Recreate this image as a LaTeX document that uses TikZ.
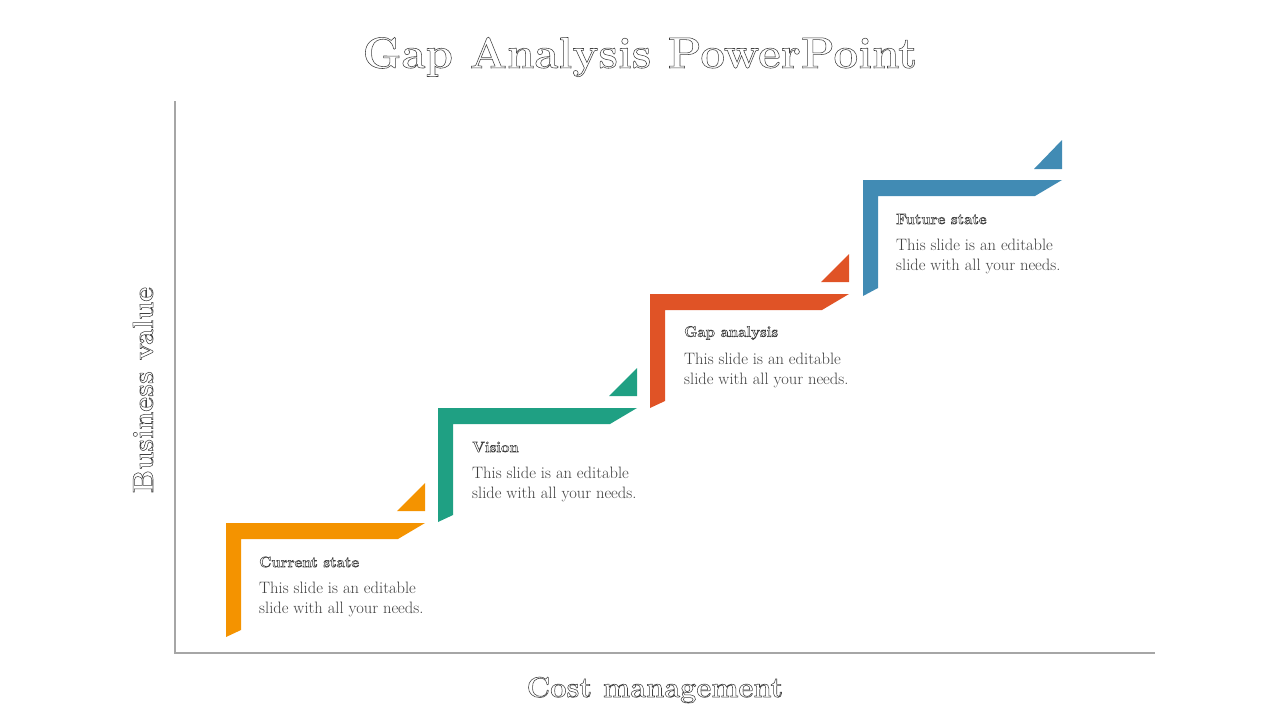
\documentclass[tikz,border=0pt]{standalone}
\usepackage{xcolor}
\usepackage{tikz}
\definecolor{myorange}{RGB}{244,147,0}
\definecolor{myteal}{RGB}{31,160,131}
\definecolor{myred}{RGB}{224,83,38}
\definecolor{myblue}{RGB}{65,139,180}
\definecolor{myaxis}{RGB}{166,166,166}
\definecolor{mytext}{RGB}{64,64,64}
\newcommand{\hollow}[1]{\special{pdf:literal direct 1 Tr 0.55 w}#1\special{pdf:literal direct 0 Tr}}
\tikzset{
  steplbl/.style={anchor=west, inner sep=0pt, text=black!75, font=\fontsize{15}{18}\selectfont\bfseries},
  stepbody/.style={anchor=north west, text=mytext, align=left, font=\fontsize{16.5}{19.5}\selectfont, inner sep=0pt},
  axislbl/.style={text=black!75, font=\fontsize{29}{33}\selectfont\bfseries}
}

\begin{document}
\begin{tikzpicture}[x=1pt,y=-1pt]
\useasboundingbox (0,0) rectangle (1280,720);

% title
\node[text=black!75, font=\fontsize{44}{50}\selectfont\bfseries] (title) at (640,57) {\hollow{Gap Analysis PowerPoint}};

% axes
\draw[myaxis, line width=2.5pt] (175,101) -- (175,653) -- (1155,653);
\node[axislbl, rotate=90] (ylbl) at (143,390) {\hollow{Business value}};
\node[axislbl] (xlbl) at (655,690) {\hollow{Cost management}};

% Current state
\fill[myorange] (226,523) -- ++(199,0) -- ++(-27,16) -- (241,539) -- (241,630) -- (226,637) -- cycle;
\fill[myorange] (397,511) -- (425,511) -- (425,483) -- cycle;
\node[steplbl] (cur) at (259,562) {\hollow{Current state}};
\node[stepbody] (curtxt) at (259,582) {This slide is an editable\\slide with all your needs.};

% Vision
\fill[myteal] (438,408) -- ++(199,0) -- ++(-27,16) -- (453,424) -- (453,515) -- (438,522) -- cycle;
\fill[myteal] (609,396) -- (637,396) -- (637,368) -- cycle;
\node[steplbl] (vis) at (472,447) {\hollow{Vision}};
\node[stepbody] (vistxt) at (472,467) {This slide is an editable\\slide with all your needs.};

% Gap analysis
\fill[myred] (650,294) -- ++(199,0) -- ++(-27,16) -- (665,310) -- (665,401) -- (650,408) -- cycle;
\fill[myred] (821,282) -- (849,282) -- (849,254) -- cycle;
\node[steplbl] (gap) at (684,333) {\hollow{Gap analysis}};
\node[stepbody] (gaptxt) at (684,353) {This slide is an editable\\slide with all your needs.};

% Future state
\fill[myblue] (863,180) -- ++(199,0) -- ++(-27,16) -- (878,196) -- (878,288) -- (863,296) -- cycle;
\fill[myblue] (1034,169) -- (1062,169) -- (1062,140) -- cycle;
\node[steplbl] (fut) at (896,219) {\hollow{Future state}};
\node[stepbody] (futtxt) at (896,239) {This slide is an editable\\slide with all your needs.};

\end{tikzpicture}
\end{document}
